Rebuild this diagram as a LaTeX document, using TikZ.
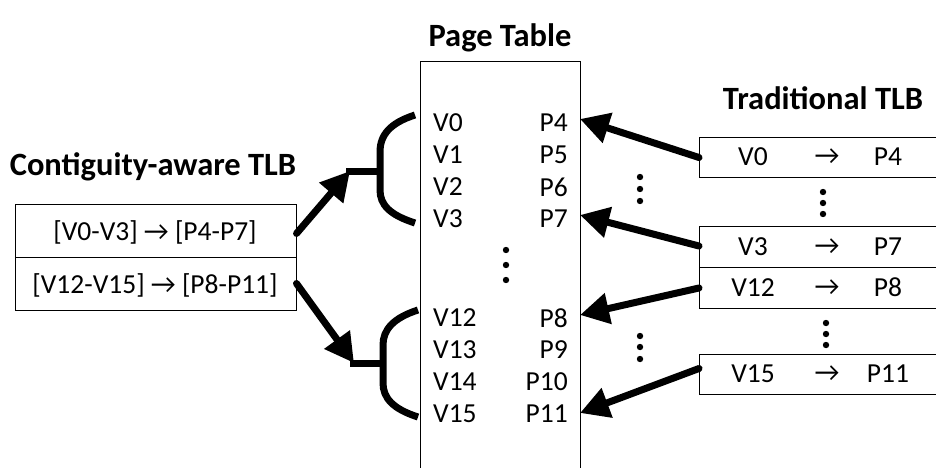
\documentclass[tikz,border=0pt]{standalone}
\usepackage{fontspec}
\setmainfont{Carlito}
\usetikzlibrary{arrows.meta}
\begin{document}
\begin{tikzpicture}[x=1pt,y=-1pt,
  txt/.style={font=\fontsize{27.5}{30}\selectfont, inner sep=0pt},
  ttl/.style={font=\fontsize{32.5}{36}\selectfont\bfseries, inner sep=0pt},
  boxc/.style={draw, line width=1pt, inner sep=0pt},
  bigarrow/.style={line width=7pt, line cap=round, -{Triangle[length=29pt,width=30pt]}},
  brk/.style={line width=7pt},
  dotc/.style={fill=black, draw=none}]
\useasboundingbox (0,0) rectangle (936,468);
% page table
\node[ttl] (pttl) at (500,38) {Page Table};
\draw[line width=1pt] (420,475) -- (420,62) -- (580,62) -- (580,475);
\foreach \v/\p/\y in {V0/P4/123, V1/P5/155, V2/P6/187, V3/P7/219, V12/P8/318, V13/P9/350, V14/P10/382, V15/P11/414} {
  \node[txt, anchor=west] (l\v) at (433,\y) {\v};
  \node[txt, anchor=east] (r\p) at (568,\y) {\p};
}
\foreach \y in {250,265,280} \fill[dotc] (506,\y) circle (3.2);
% contiguity-aware TLB
\node[ttl] (cttl) at (153,167) {Contiguity-aware TLB};
\node[boxc, minimum width=281, minimum height=53] (c1) at (155.5,230.5) {};
\node[boxc, minimum width=281, minimum height=53] (c2) at (155.5,283.5) {};
\node[txt] (c1t) at (155,232) {[V0-V3] → [P4-P7]};
\node[txt] (c2t) at (155,285) {[V12-V15] → [P8-P11]};
% brackets
\coordinate (s1) at (350,171);
\coordinate (s2) at (354,363);
\draw[brk] (415,115) .. controls (390,123) and (380,135) .. (380,152) -- (380,190) .. controls (380,205) and (390,215) .. (415,223);
\draw[brk] (346,171) -- (380,171);
\draw[brk] (418,310) .. controls (393,318) and (383,330) .. (383,345) -- (383,383) .. controls (383,398) and (393,409) .. (418,417);
\draw[brk] (350,363) -- (383,363);
\draw[bigarrow] (c1.east) ++(0,3) coordinate (c1e) (c1e) -- (s1);
\draw[bigarrow] (c2.east) ++(0,0) coordinate (c2e) (c2e) -- (s2);
% traditional TLB
\node[ttl] (tttl) at (823,98) {Traditional TLB};
\node[boxc, anchor=north west, minimum width=245, minimum height=40] (t0) at (699,137) {};
\node[boxc, anchor=north west, minimum width=245, minimum height=41] (t3) at (699,226) {};
\node[boxc, anchor=north west, minimum width=245, minimum height=41] (t12) at (699,267) {};
\node[boxc, anchor=north west, minimum width=245, minimum height=40] (t15) at (699,354) {};
\foreach \n/\v/\p/\y in {t0/V0/P4/157, t3/V3/P7/246.5, t12/V12/P8/287.5, t15/V15/P11/374} {
  \node[txt] (\n v) at (753,\y) {\v};
  \node[txt] (\n a) at (827,\y) {→};
  \node[txt] (\n p) at (888,\y) {\p};
}
\foreach \y in {192,203,214} \fill[dotc] (823,\y) circle (3.2);
\foreach \y in {323,334,345} \fill[dotc] (826,\y) circle (3.2);
\foreach \y in {177,189,201} \fill[dotc] (640,\y) circle (3.2);
\foreach \y in {336,347,359} \fill[dotc] (640,\y) circle (3.2);
\coordinate (e4) at (580,119);
\coordinate (e7) at (580,215);
\coordinate (e8) at (580,315);
\coordinate (e11) at (580,413);
\draw[bigarrow] (t0.west) -- (e4);
\draw[bigarrow] (t3.west) ++(0,-1) coordinate (t3w) (t3w) -- (e7);
\draw[bigarrow] (t12.west) -- (e8);
\draw[bigarrow] (t15.west) ++(0,-6) coordinate (t15w) (t15w) -- (e11);
\end{tikzpicture}
\end{document}
